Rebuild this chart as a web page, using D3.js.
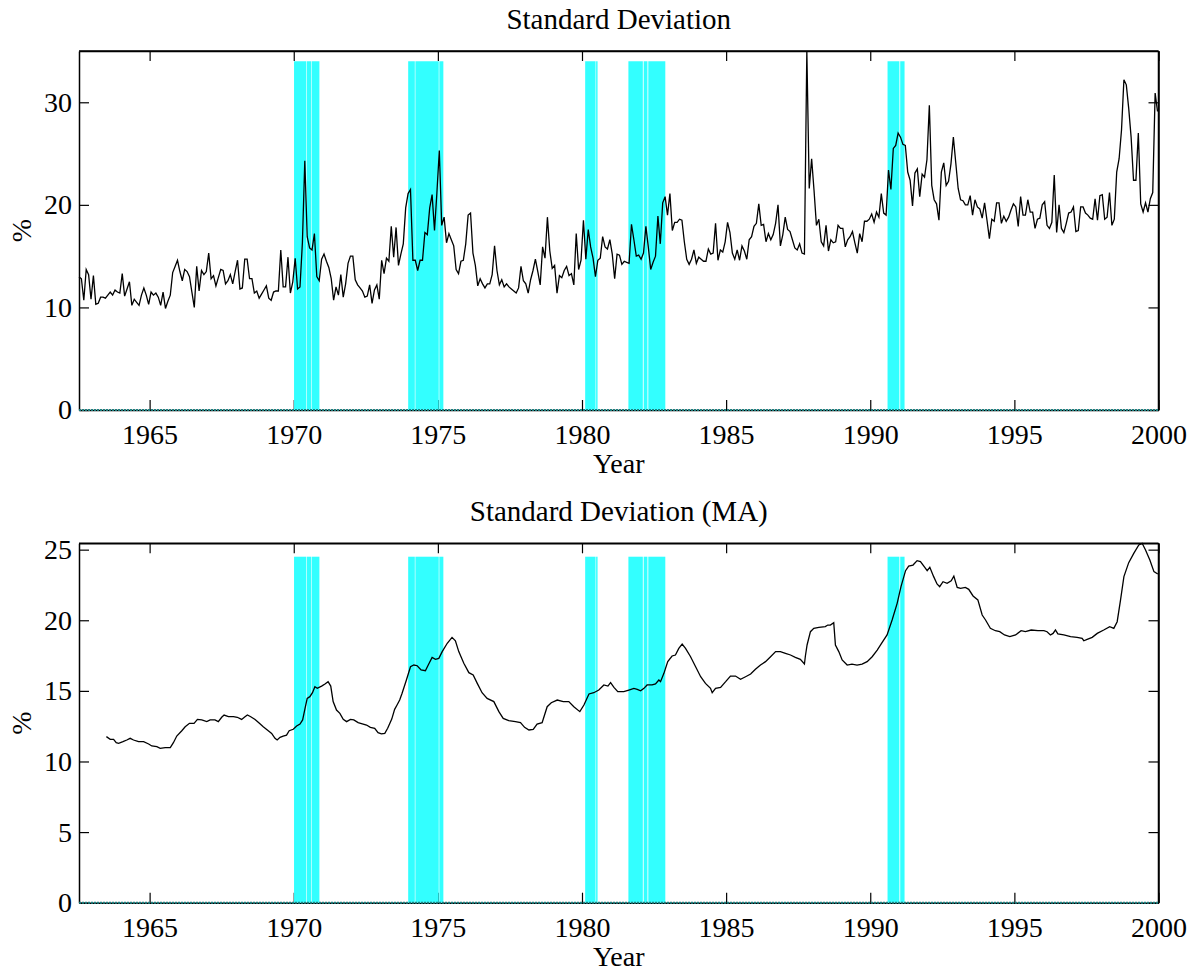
<!DOCTYPE html>
<html>
<head>
<meta charset="utf-8">
<script src="https://cdn.jsdelivr.net/npm/d3@7"></script>
<style>
  body { margin: 0; background: #fff; }
  text { font-family: "Liberation Serif", "Times New Roman", serif; fill: #000; }
</style>
</head>
<body>
<svg width="1194" height="972"></svg>
<script>
// Monthly standard deviation (%), first month = mid 1962
var seriesStart = 1962.55;
var sdValues = [
  13.0, 12.8, 10.7, 13.7, 13.2, 10.8, 13.1, 10.3, 10.4, 11.0, 11.0, 10.9,
  11.2, 11.5, 11.2, 11.7, 11.5, 11.4, 13.3, 11.1, 11.8, 12.5, 10.2, 10.8,
  10.5, 10.2, 11.2, 11.9, 11.2, 10.3, 11.5, 11.2, 11.4, 11.0, 10.2, 11.5,
  9.9, 10.6, 11.2, 13.4, 14.0, 14.6, 13.5, 12.6, 13.7, 13.5, 13.0, 11.5,
  10.0, 14.0, 11.6, 13.6, 13.2, 13.5, 15.3, 12.8, 13.1, 12.1, 12.9, 13.7,
  13.6, 12.3, 12.6, 13.2, 12.3, 13.5, 14.6, 11.8, 11.9, 14.7, 14.7, 12.8,
  12.8, 11.4, 11.6, 10.9, 11.3, 11.7, 12.1, 10.9, 10.7, 11.5, 11.6, 11.6,
  15.6, 12.0, 12.0, 14.9, 11.4, 12.5, 14.8, 11.8, 12.0, 16.3, 24.3, 16.9,
  15.8, 15.6, 17.2, 13.0, 12.6, 14.7, 15.2, 14.5, 13.9, 12.8, 10.7, 12.0,
  11.2, 13.2, 11.0, 12.3, 14.3, 15.0, 15.0, 12.7, 12.2, 11.9, 11.6, 11.0,
  11.1, 12.2, 10.4, 11.7, 12.2, 10.8, 14.6, 13.3, 14.8, 14.5, 17.9, 14.9,
  17.8, 14.1, 15.2, 16.2, 19.7, 21.1, 21.5, 14.6, 14.6, 13.6, 14.6, 14.6,
  17.3, 17.1, 19.7, 21.0, 17.5, 21.2, 25.3, 18.0, 18.8, 16.3, 17.2, 16.6,
  16.0, 13.7, 13.3, 14.5, 14.6, 16.2, 19.0, 19.2, 15.3, 14.1, 12.1, 12.8,
  12.3, 11.9, 12.3, 12.3, 13.2, 16.0, 13.6, 12.2, 12.7, 12.0, 12.3, 12.0,
  11.8, 11.6, 11.4, 11.9, 14.0, 12.6, 12.3, 11.4, 12.7, 13.6, 14.7, 13.5,
  12.2, 15.9, 14.8, 18.8, 15.5, 13.8, 14.1, 11.4, 13.1, 12.9, 13.6, 14.0,
  13.1, 13.3, 12.2, 17.2, 13.7, 14.6, 18.5, 14.7, 17.6, 15.9, 14.8, 13.0,
  14.6, 14.8, 16.9, 15.9, 15.7, 16.6, 15.2, 12.8, 15.2, 15.1, 14.2, 14.5,
  14.4, 14.3, 18.1, 16.6, 15.0, 15.1, 14.7, 15.3, 17.9, 15.9, 13.7, 14.4,
  15.0, 18.9, 16.2, 20.2, 20.8, 19.0, 21.1, 17.5, 18.3, 18.3, 18.6, 18.5,
  16.4, 14.7, 14.2, 14.7, 15.6, 14.3, 14.9, 14.7, 14.5, 14.5, 15.7, 15.2,
  15.3, 18.2, 14.6, 15.6, 15.4, 16.4, 18.3, 17.3, 15.3, 14.7, 15.6, 14.6,
  16.0, 15.5, 14.7, 16.6, 16.9, 17.9, 18.2, 20.1, 18.0, 18.1, 16.4, 17.2,
  16.6, 17.1, 18.2, 20.0, 16.0, 17.1, 18.8, 17.6, 17.4, 16.6, 15.8, 15.6,
  16.2, 15.3, 15.2, 35.0, 21.6, 24.5, 21.4, 18.0, 18.6, 16.4, 16.0, 18.0,
  15.5, 16.6, 16.3, 16.4, 18.0, 17.7, 17.7, 15.9, 16.6, 16.9, 17.4, 16.3,
  15.3, 17.2, 16.4, 18.4, 18.4, 18.6, 19.1, 18.3, 19.3, 18.8, 21.1, 19.2,
  19.0, 23.4, 21.5, 25.5, 25.8, 27.0, 26.6, 25.9, 25.8, 23.2, 22.4, 19.9,
  23.1, 23.5, 20.8, 23.0, 22.7, 24.4, 29.7, 21.9, 20.5, 20.1, 18.5, 23.2,
  24.1, 21.9, 22.3, 24.0, 26.6, 24.1, 21.6, 20.5, 20.4, 20.0, 20.0, 20.9,
  19.0, 20.5, 19.8, 19.6, 18.7, 20.2, 18.5, 16.7, 18.6, 18.4, 20.2, 20.2,
  18.2, 18.9, 18.4, 18.8, 19.5, 20.1, 19.8, 17.9, 20.8, 19.0, 19.0, 20.5,
  19.3, 19.3, 17.7, 18.6, 18.7, 20.0, 20.3, 18.0, 17.7, 18.3, 22.9, 17.3,
  20.0, 17.7, 17.3, 18.2, 19.2, 19.3, 19.8, 17.4, 17.5, 19.8, 19.8, 19.2,
  19.0, 18.7, 18.6, 20.6, 18.5, 20.9, 21.0, 18.6, 18.8, 21.2, 18.0, 18.6,
  23.2, 24.5, 27.3, 32.2, 31.7, 29.4, 26.6, 22.4, 22.4, 27.0, 20.1, 19.3,
  20.2, 19.3, 20.6, 21.2, 30.9, 29.1
];

// Moving average: [months since seriesStart, value]
var maPoints = [
  [11.4,11.76],[13,11.57],[14.4,11.57],[15.5,11.33],[16.5,11.28],[18.3,11.4],[19.9,11.52],[21.3,11.64],
  [22.7,11.52],[24.8,11.4],[26.9,11.4],[29,11.24],[30.3,11.1],[32.4,11.05],[33.8,10.93],[35.9,10.98],
  [38,10.98],[39.3,11.33],[40.7,11.8],[42.8,12.18],[44.2,12.46],[46,12.7],[47.9,12.7],[49.3,12.98],
  [51.1,12.94],[53.2,12.82],[54.6,12.94],[56.6,12.94],[58,12.82],[59.4,13.13],[60.4,13.29],[62.2,13.17],
  [64.3,13.17],[65.9,13.13],[67.7,12.98],[69.1,13.17],[70.1,13.29],[71.5,13.17],[73.3,12.98],[75.1,12.7],
  [76.7,12.46],[78.4,12.23],[80.2,11.99],[81.6,11.64],[82.5,11.52],[83.7,11.71],[85,11.8],[86.4,11.87],
  [87.5,12.18],[89.2,12.28],[90.6,12.51],[92,12.65],[93.1,12.94],[94.1,13.76],[95,14.47],[96.1,14.59],
  [97.2,14.87],[98.2,15.3],[99.2,15.18],[101,15.34],[102.4,15.49],[103.7,15.65],[104.8,15.34],[105.8,14.24],
  [107.2,13.64],[108.6,13.41],[110,12.98],[111.4,12.82],[113,12.98],[114.4,12.94],[116.2,12.75],[118.3,12.65],
  [119.7,12.58],[121.3,12.42],[123.1,12.35],[124.5,12.04],[125.9,11.95],[127.3,11.99],[128.5,12.35],[130.2,13.0],
  [131.4,13.69],[132.4,14.0],[133.5,14.35],[134.5,14.83],[136.3,15.77],[138,16.71],[139.4,16.83],[140.8,16.78],
  [142.4,16.48],[144.2,16.43],[145.6,16.9],[147,17.37],[148.4,17.23],[149.8,17.3],[151.2,17.78],[153.3,18.37],
  [155.3,18.79],[156.7,18.55],[158.1,17.78],[160.2,16.95],[162.3,16.29],[164.1,16.12],[165.8,15.53],[167.8,14.87],
  [169.9,14.47],[172.7,14.24],[174.8,13.53],[176.6,13.05],[178.9,12.89],[181.7,12.82],[183.8,12.75],[185.5,12.42],
  [187.3,12.23],[189.1,12.28],[190.7,12.65],[192.8,12.75],[194.9,13.88],[196.6,14.16],[199.1,14.35],[201.6,14.24],
  [203.9,14.24],[206,13.88],[208.5,13.53],[210.2,14.0],[212.3,14.78],[214.3,14.87],[216.4,15.06],[218.5,15.42],
  [220.2,15.34],[221.3,15.58],[222.7,15.25],[224.3,14.94],[226.8,14.94],[228.9,15.06],[231,15.18],[232.4,15.11],
  [233.8,15.01],[235.2,15.18],[236.5,15.42],[238.6,15.42],[240,15.49],[241.4,15.77],[242.1,15.65],[243.5,16.24],
  [245.1,17.07],[246.9,17.47],[248.3,17.54],[249.7,18.01],[251.1,18.32],[252.5,18.01],[254.6,17.42],[256.7,16.71],
  [258.8,16.0],[260.8,15.53],[262.9,15.18],[263.6,14.87],[265,15.18],[267.1,15.25],[269.2,15.65],[271.2,16.05],
  [273.3,16.05],[275.4,15.82],[277.5,16.0],[279.6,16.19],[281.6,16.53],[283.7,16.83],[285.8,17.07],[287.9,17.42],
  [290,17.78],[292,17.78],[294.1,17.66],[296.2,17.54],[298.2,17.37],[300.3,17.23],[302,16.9],[302.4,17.47],
  [303.1,18.25],[304.5,19.19],[305.9,19.43],[308,19.5],[310.7,19.55],[311.7,19.66],[312.8,19.66],[314.2,19.83],
  [314.9,18.25],[316.3,17.78],[317.7,17.19],[319.8,16.83],[321.8,16.9],[323.9,16.83],[326,16.9],[328.1,17.07],
  [330.2,17.42],[332.3,17.89],[334.3,18.41],[336.4,18.96],[338.5,20.02],[340.6,21.2],[342.2,22.38],[344.1,23.51],
  [345.4,23.84],[347.2,23.91],[348.9,24.22],[350.3,24.15],[352.1,23.75],[353.1,23.51],[354.2,23.75],[355.8,23.09],
  [357.2,22.57],[358.3,22.38],[359.7,22.73],[361.4,22.62],[363.1,22.8],[364.2,23.13],[365.6,22.33],[367,22.26],
  [369,22.33],[370.4,22.19],[372.2,21.72],[374.2,21.44],[376,20.37],[377.4,20.02],[379.4,19.43],[381.5,19.26],
  [383.3,19.19],[385.3,18.96],[387.5,18.84],[389.9,18.96],[392.2,19.26],[394,19.19],[396.4,19.31],[399.2,19.26],
  [401.7,19.26],[403,19.19],[404.4,18.96],[405.5,19.07],[406.5,19.31],[407.5,19.03],[410,18.96],[412.8,18.84],
  [415.5,18.79],[417.6,18.72],[418.3,18.55],[419.7,18.65],[421.8,18.79],[423.9,19.07],[426.6,19.31],[429.1,19.55],
  [430.8,19.43],[432.2,19.9],[433.6,21.44],[435,23.09],[437,24.08],[439.1,24.74],[441.2,25.33],[442.6,25.45],
  [444,24.98],[445.8,24.27],[447.5,23.44],[449.1,23.28]
];

// Recession shading, [start year, end year]
var recessionBands = [
  [1970.01, 1970.43], [1970.45, 1970.60], [1970.62, 1970.89],
  [1973.97, 1974.20], [1974.22, 1975.03], [1975.05, 1975.19],
  [1980.11, 1980.47], [1980.49, 1980.54],
  [1981.61, 1982.11], [1982.14, 1982.27], [1982.30, 1982.89],
  [1990.60, 1991.01], [1991.04, 1991.19]
];

var yearTicks = [1965, 1970, 1975, 1980, 1985, 1990, 1995, 2000];
var topTicks = [0, 10, 20, 30];
var bottomTicks = [0, 5, 10, 15, 20, 25];
var titles = ["Standard Deviation", "Standard Deviation (MA)"];
var bandTops = [34, 24.5];

var sdData = sdValues.map(function(v, i) { return { year: seriesStart + i / 12, value: v }; });
var maData = maPoints.map(function(p) { return { year: seriesStart + p[0] / 12, value: p[1] }; });

var svg = d3.select("svg");
var left = 79, right = 1158.5;

var xScale = d3.scaleLinear()
    .domain([seriesStart, 2000])
    .range([left, right]);

var panels = [
  { data: sdData, top: 51, bottom: 410, yMax: 35, ticks: topTicks },
  { data: maData, top: 543.3, bottom: 902.7, yMax: d3.max(maData, function(d) { return d.value; }), ticks: bottomTicks }
];

panels.forEach(function(p, k) {
  var yScale = d3.scaleLinear()
      .domain([0, p.yMax])
      .range([p.bottom, p.top]);

  var g = svg.append("g");

  // Frame lines
  g.append("line").attr("x1", left).attr("x2", right).attr("y1", p.top).attr("y2", p.top)
      .attr("stroke", "#000").attr("stroke-width", 1.5);
  g.append("line").attr("x1", right).attr("x2", right).attr("y1", p.top).attr("y2", p.bottom)
      .attr("stroke", "#000").attr("stroke-width", 1.5);

  // Axes
  g.append("g")
      .attr("transform", "translate(0," + p.bottom + ")")
      .call(d3.axisBottom(xScale).tickValues(yearTicks).tickFormat(d3.format("d"))
          .tickSizeInner(-10).tickSizeOuter(0).tickPadding(14));
  g.append("g")
      .attr("transform", "translate(0," + p.top + ")")
      .call(d3.axisTop(xScale).tickValues(yearTicks).tickFormat("")
          .tickSizeInner(-10).tickSizeOuter(0));
  g.append("g")
      .attr("transform", "translate(" + left + ",0)")
      .call(d3.axisLeft(yScale).tickValues(p.ticks)
          .tickSizeInner(-10).tickSizeOuter(0).tickPadding(7));
  g.append("g")
      .attr("transform", "translate(" + right + ",0)")
      .call(d3.axisRight(yScale).tickValues(p.ticks).tickFormat("")
          .tickSizeInner(-10).tickSizeOuter(0));

  g.selectAll(".domain").attr("stroke", "#000").attr("stroke-width", 1.5);
  g.selectAll(".tick line").attr("stroke", "#000").attr("stroke-width", 1.2);
  g.selectAll(".tick text").attr("font-size", "28px")
      .style("font-family", "'Liberation Serif', 'Times New Roman', serif");

  // Recession bands
  g.selectAll("rect.band")
      .data(recessionBands)
      .enter().append("rect")
      .attr("class", "band")
      .attr("x", function(d) { return xScale(d[0]); })
      .attr("width", function(d) { return xScale(d[1]) - xScale(d[0]); })
      .attr("y", yScale(bandTops[k]))
      .attr("height", yScale(0) - yScale(bandTops[k]))
      .attr("fill", "#33ffff");

  // Series line
  var line = d3.line()
      .x(function(d) { return xScale(d.year); })
      .y(function(d) { return yScale(d.value); });

  g.append("path")
      .datum(p.data)
      .attr("d", line)
      .attr("fill", "none")
      .attr("stroke", "#000")
      .attr("stroke-width", 1.3);

  // Zero line
  g.append("line")
      .attr("x1", left).attr("x2", right)
      .attr("y1", yScale(0)).attr("y2", yScale(0))
      .attr("stroke", "#1c8080").attr("stroke-width", 2)
      .attr("stroke-dasharray", "2,1");

  // Titles and labels
  g.append("text")
      .attr("x", (left + right) / 2)
      .attr("y", p.top - 22)
      .attr("text-anchor", "middle")
      .attr("font-size", "29px")
      .text(titles[k]);

  g.append("text")
      .attr("x", (left + right) / 2)
      .attr("y", p.bottom + 63)
      .attr("text-anchor", "middle")
      .attr("font-size", "28px")
      .text("Year");

  g.append("text")
      .attr("transform", "translate(31," + (p.top + p.bottom) / 2 + ") rotate(-90)")
      .attr("text-anchor", "middle")
      .attr("font-size", "28px")
      .text("%");
});
</script>
</body>
</html>
